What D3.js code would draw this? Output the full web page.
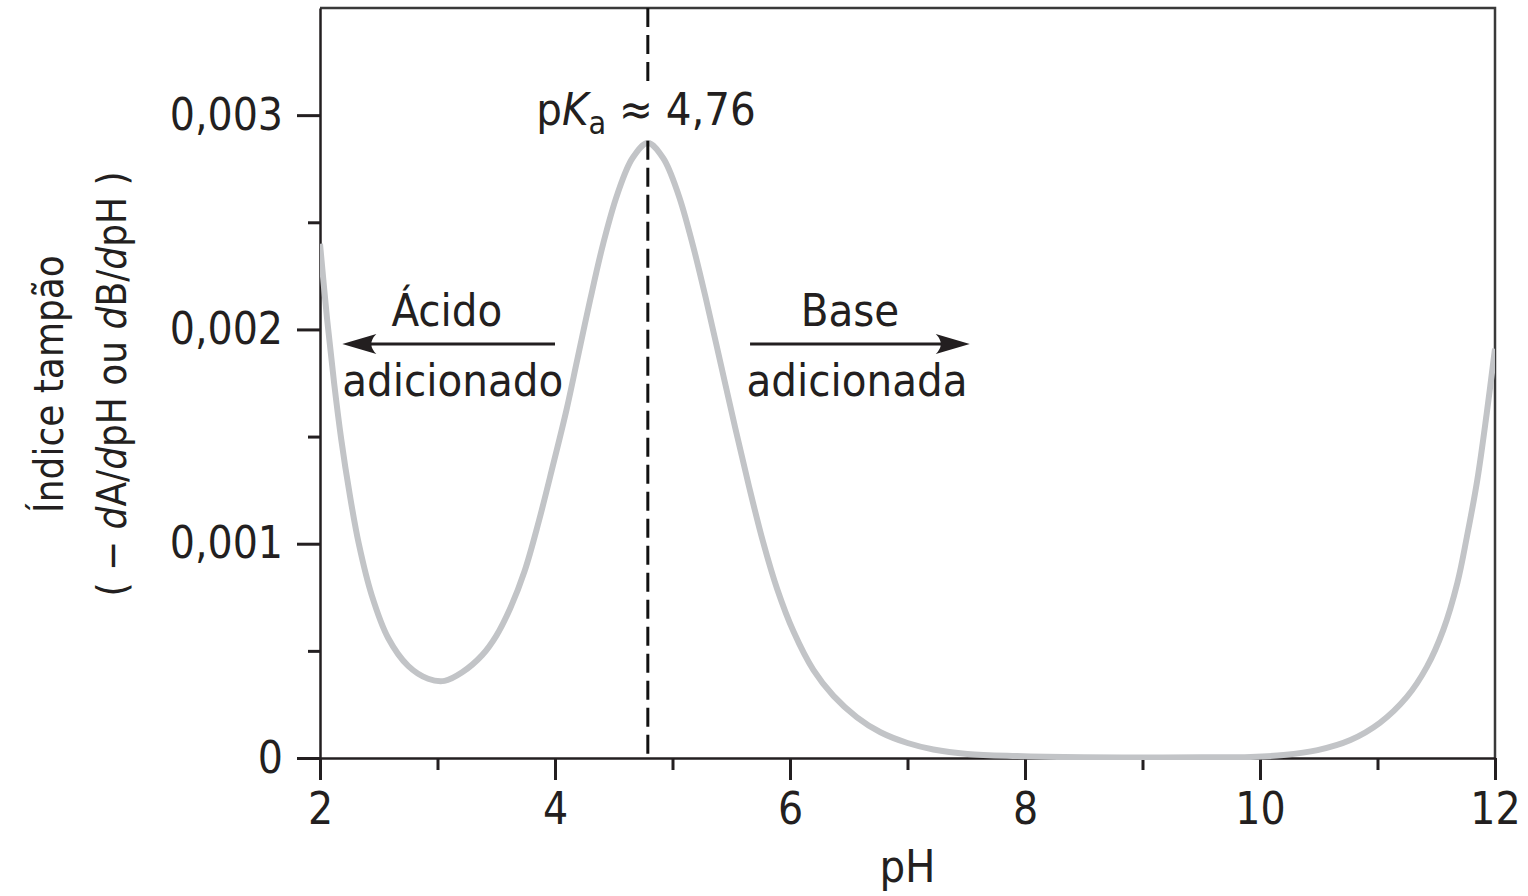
<!DOCTYPE html>
<meta charset="utf-8">
<style>

body {
  margin: 0;
  background: #fff;
}

text {
  font-family: "Liberation Sans Narrow", "DejaVu Sans Condensed", "Roboto", sans-serif;
  fill: #231f20;
}

.axis text {
  font-size: 44px;
}

.axis path,
.axis line {
  stroke: #231f20;
}

.label {
  font-size: 45px;
}

.ytitle {
  font-size: 40px;
}

</style>
<svg width="1528" height="896"></svg>
<script src="https://d3js.org/d3.v7.min.js"></script>
<script>

// buffer index curve
var phValues = [2.00, 2.06, 2.12, 2.18, 2.25, 2.33, 2.44, 2.58, 2.75, 2.92, 3.06, 3.21, 3.38,
  3.50, 3.62, 3.74, 3.86, 3.98, 4.10, 4.19, 4.30, 4.41, 4.53, 4.66, 4.79, 4.92, 5.05, 5.17,
  5.29, 5.41, 5.53, 5.65, 5.77, 5.89, 6.03, 6.20, 6.37, 6.57, 6.77, 7.00, 7.22, 7.51, 7.93,
  8.50, 9.00, 9.50, 9.92, 10.20, 10.49, 10.77, 11.02, 11.25, 11.42, 11.56, 11.68, 11.76,
  11.85, 11.93, 12.00];

var bufferIndex = [0.00240, 0.00205, 0.00175, 0.00149, 0.00124, 0.00100, 0.00076, 0.00056,
  0.00043, 0.00037, 0.00036, 0.00040, 0.00048, 0.00057, 0.00070, 0.00087, 0.00110, 0.00136,
  0.00163, 0.00186, 0.00214, 0.00240, 0.00263, 0.00280, 0.00287, 0.00280, 0.00263, 0.00240,
  0.00213, 0.00184, 0.00155, 0.00127, 0.00101, 0.00079, 0.00059, 0.00041, 0.00029, 0.00019,
  0.00012, 0.00007, 0.00004, 0.000019, 0.000009, 0.000003, 0.000002, 0.000003, 0.000005,
  0.000014, 0.000037, 0.000084, 0.000164, 0.000285, 0.000425, 0.000598, 0.000818, 0.00103,
  0.00130, 0.00161, 0.00191];

var xMajor = [2, 4, 6, 8, 10, 12];
var xMinor = [3, 5, 7, 9, 11];
var yMajor = [0, 0.001, 0.002, 0.003];
var yMajorLabels = ["0", "0,001", "0,002", "0,003"];
var yMinor = [0.0005, 0.0015, 0.0025];

var pKaLine = 4.79;

var svg = d3.select("svg"),
    margin = {top: 8, right: 33, bottom: 138, left: 320},
    width = +svg.attr("width") - margin.left - margin.right,
    height = +svg.attr("height") - margin.top - margin.bottom,
    g = svg.append("g").attr("transform", "translate(" + margin.left + "," + margin.top + ")");

var x = d3.scaleLinear().domain([2, 12]).range([0, width]);
var y = d3.scaleLinear().domain([0, 0.0035]).range([height, 0]);

var data = phValues.map(function(p, i) { return {ph: p, v: bufferIndex[i]}; });

// frame (top and right)
g.append("path")
    .attr("d", "M0,0H" + width + "V" + height)
    .attr("fill", "none")
    .attr("stroke", "#3a3a3a")
    .attr("stroke-width", 2.5);

// minor ticks
g.append("g")
    .attr("class", "axis")
    .attr("transform", "translate(0," + height + ")")
    .call(d3.axisBottom(x).tickValues(xMinor).tickSize(12).tickFormat(""))
    .call(function(s) { s.select(".domain").remove(); })
    .selectAll("line").attr("stroke-width", 3);

g.append("g")
    .attr("class", "axis")
    .call(d3.axisLeft(y).tickValues(yMinor).tickSize(12).tickFormat(""))
    .call(function(s) { s.select(".domain").remove(); })
    .selectAll("line").attr("stroke-width", 3);

// major axes
var xAxis = g.append("g")
    .attr("class", "axis")
    .attr("transform", "translate(0," + height + ")")
    .call(d3.axisBottom(x).tickValues(xMajor).tickSize(22).tickSizeOuter(0).tickPadding(13));
xAxis.select(".domain").attr("stroke-width", 2.5);
xAxis.selectAll("line").attr("stroke-width", 3);

var yAxis = g.append("g")
    .attr("class", "axis")
    .call(d3.axisLeft(y).tickValues(yMajor).tickSize(23).tickSizeOuter(0).tickPadding(14)
      .tickFormat(function(d, i) { return yMajorLabels[i]; }));
yAxis.select(".domain").attr("stroke-width", 2.5);
yAxis.selectAll("line").attr("stroke-width", 3);

// curve
var line = d3.line()
    .x(function(d) { return x(d.ph); })
    .y(function(d) { return y(d.v); })
    .curve(d3.curveCatmullRom.alpha(0.5));

g.append("clipPath").attr("id", "clip")
  .append("rect").attr("width", width).attr("height", height + 2);

g.append("path")
    .datum(data)
    .attr("clip-path", "url(#clip)")
    .attr("fill", "none")
    .attr("stroke", "#c2c4c7")
    .attr("stroke-width", 6)
    .attr("d", line);

// dashed pKa line (broken around the label)
[[0.0035, 0.00315], [0.00288, 0]].forEach(function(seg) {
  g.append("line")
      .attr("x1", x(pKaLine)).attr("x2", x(pKaLine))
      .attr("y1", y(seg[0])).attr("y2", y(seg[1]))
      .attr("stroke", "#111")
      .attr("stroke-width", 3)
      .attr("stroke-dasharray", "19,8");
});

var pk = g.append("text")
    .attr("class", "label")
    .attr("x", x(3.84))
    .attr("y", y(0.002955));
pk.append("tspan").text("p");
pk.append("tspan").style("font-style", "italic").text("K");
pk.append("tspan").attr("dy", 9).style("font-size", "32px").text("a");
pk.append("tspan").attr("dy", -9).text(" \u2248 4,76");

// arrows
function arrow(x1, x2, v) {
  var dir = x2 > x1 ? 1 : -1,
      tx = x(x2), yy = y(v);
  g.append("line")
      .attr("x1", x(x1)).attr("x2", tx - dir * 10)
      .attr("y1", yy).attr("y2", yy)
      .attr("stroke", "#231f20")
      .attr("stroke-width", 3);
  g.append("path")
      .attr("d", "M" + tx + "," + yy +
        "L" + (tx - dir * 34) + "," + (yy - 10) +
        "Q" + (tx - dir * 24) + "," + yy + " " + (tx - dir * 34) + "," + (yy + 10) + "Z")
      .attr("fill", "#231f20");
}

arrow(4.0, 2.19, 0.001932);
arrow(5.66, 7.53, 0.001932);

var notes = [
  {t: "\u00c1cido", ph: 3.08, v: 0.002014},
  {t: "adicionado", ph: 3.13, v: 0.001690},
  {t: "Base", ph: 6.51, v: 0.002014},
  {t: "adicionada", ph: 6.57, v: 0.001690}
];
g.selectAll(".note")
  .data(notes)
  .enter().append("text")
    .attr("class", "label note")
    .attr("text-anchor", "middle")
    .attr("x", function(d) { return x(d.ph); })
    .attr("y", function(d) { return y(d.v); })
    .text(function(d) { return d.t; });

// axis titles
svg.append("text")
    .attr("class", "label")
    .attr("text-anchor", "middle")
    .attr("x", margin.left + x(7.0))
    .attr("y", 882)
    .text("pH");

svg.append("text")
    .attr("class", "label ytitle")
    .attr("text-anchor", "middle")
    .attr("transform", "translate(63,384) rotate(-90)")
    .text("\u00cdndice tamp\u00e3o");

var t2 = svg.append("text")
    .attr("class", "label ytitle")
    .attr("text-anchor", "middle")
    .attr("transform", "translate(126,384) rotate(-90)");
t2.append("tspan").text("( \u2212 ");
t2.append("tspan").style("font-style", "italic").text("d");
t2.append("tspan").text("A/");
t2.append("tspan").style("font-style", "italic").text("d");
t2.append("tspan").text("pH ou ");
t2.append("tspan").style("font-style", "italic").text("d");
t2.append("tspan").text("B/");
t2.append("tspan").style("font-style", "italic").text("d");
t2.append("tspan").text("pH )");

</script>
